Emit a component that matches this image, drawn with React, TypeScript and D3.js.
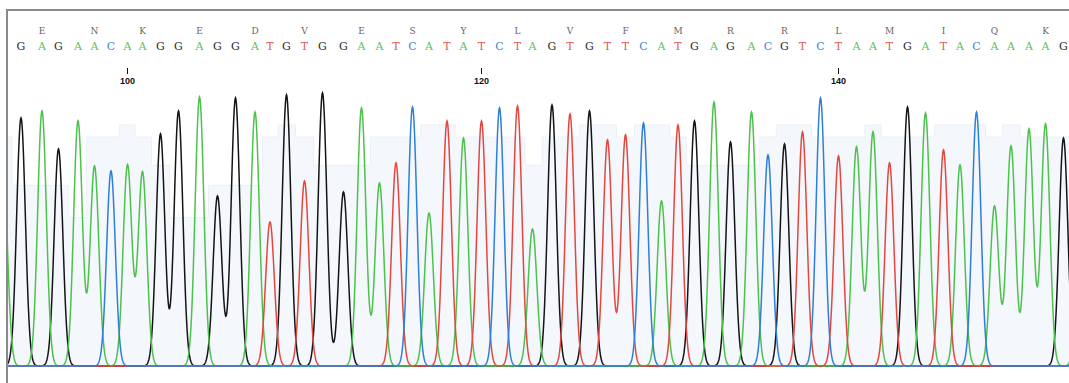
import React from 'react';
import * as d3 from 'd3';

const W = 1069;
const H = 383;

// Base positions 93..154 (93 and 154 are only partly inside the view)
const firstBasePosition = 93;
const baseCalls = [
  'A', 'G', 'A', 'G', 'A', 'A', 'C', 'A', 'A', 'G', 'G', 'A', 'G', 'G', 'A', 'T', 'G', 'T', 'G', 'G',
  'A', 'A', 'T', 'C', 'A', 'T', 'A', 'T', 'C', 'T', 'A', 'G', 'T', 'G', 'T', 'T', 'C', 'A', 'T', 'G',
  'A', 'G', 'A', 'C', 'G', 'T', 'C', 'T', 'A', 'A', 'T', 'G', 'A', 'T', 'A', 'C', 'A', 'A', 'A', 'A',
  'G', 'A',
];
// peak locations in trace scan units
const peakScans = [
  2402, 2414, 2428, 2439, 2452, 2463, 2474, 2485, 2495, 2507, 2519, 2533, 2545, 2557, 2570, 2580, 2591, 2603, 2615, 2629,
  2641, 2653, 2664, 2675, 2686, 2698, 2709, 2721, 2733, 2745, 2755, 2768, 2780, 2793, 2805, 2817, 2829, 2841, 2852, 2863,
  2876, 2887, 2901, 2912, 2923, 2935, 2947, 2959, 2971, 2982, 2993, 3005, 3017, 3029, 3040, 3051, 3063, 3074, 3086, 3097,
  3109, 3121,
];
// peak signal intensity
const peakSignal = [
  1000, 1240, 1275, 1085, 1225, 1000, 975, 1005, 970, 1160, 1275, 1345, 850, 1340, 1270, 720, 1355, 925, 1365, 870,
  1290, 915, 1015, 1295, 765, 1225, 1140, 1225, 1290, 1300, 685, 1305, 1260, 1275, 1130, 1155, 1215, 825, 1205, 1225,
  1320, 1120, 1270, 1055, 1110, 1170, 1340, 1050, 1095, 1170, 1015, 1295, 1265, 1080, 1005, 1270, 800, 1100, 1185, 1210,
  1140, 1000,
];
// base-call quality values
const qualityValues = [
  57, 45, 45, 45, 37, 57, 57, 60, 57, 50, 37, 37, 45, 45, 45, 57, 60, 57, 50, 50,
  50, 57, 57, 57, 60, 60, 57, 57, 57, 57, 50, 57, 57, 60, 60, 57, 60, 60, 57, 50,
  50, 50, 50, 57, 60, 60, 57, 57, 57, 60, 57, 57, 57, 60, 60, 60, 57, 60, 57, 57,
  57, 57,
];
const aminoAcids = ['E', 'N', 'K', 'E', 'D', 'V', 'E', 'S', 'Y', 'L', 'V', 'F', 'M', 'R', 'R', 'L', 'M', 'I', 'Q', 'K'];
const firstCodonPosition = 94;
const tickPositions = [100, 120, 140];

const traceColors: Record<string, string> = { G: '#141414', A: '#4cc24c', T: '#e4473f', C: '#2f7fd6' };
const letterColors: Record<string, string> = { G: '#2a2a2a', A: '#5cc25c', T: '#e05a52', C: '#3d86d4' };
const drawOrder = ['G', 'A', 'T', 'C'];

const plotLeft = 8;
const baselineY = 366;

export default function App() {
  const x = d3.scaleLinear().domain([2400, 2400 + W / 1.5]).range([0, W]);
  const y = d3.scaleLinear().domain([0, 1400]).range([baselineY, 86]);
  const yq = d3.scaleLinear().domain([0, 60]).range([baselineY, 125]);
  const sigma = 2.9;

  const posIndex = (p: number) => p - firstBasePosition;

  // quality step area
  const bounds = peakScans.map((s, i) => {
    const prev = i > 0 ? peakScans[i - 1] : s - 12;
    return (s + prev) / 2;
  });
  const lastBound = peakScans[peakScans.length - 1] + 6;
  const qPts = qualityValues.map((q, i) => ({ s: bounds[i], q }));
  qPts.push({ s: lastBound, q: qualityValues[qualityValues.length - 1] });
  const qArea = d3.area<{ s: number; q: number }>()
    .curve(d3.curveStepAfter)
    .x(d => x(d.s)).y0(baselineY).y1(d => yq(d.q))(qPts) || '';
  const qLine = d3.line<{ s: number; q: number }>()
    .curve(d3.curveStepAfter)
    .x(d => x(d.s)).y(d => yq(d.q))(qPts) || '';

  const scanStart = 2394;
  const scanEnd = 3130;
  const samples = d3.range(scanStart, scanEnd, 0.25);
  const traces = drawOrder.map(ch => {
    const peaks = peakScans
      .map((s, i) => ({ s, h: peakSignal[i], b: baseCalls[i] }))
      .filter(p => p.b === ch);
    const pts = samples.map(s => {
      let v = 0;
      for (const p of peaks) {
        const d = s - p.s;
        if (Math.abs(d) < 20) v += p.h * Math.exp(-(d * d) / (2 * sigma * sigma));
      }
      return [s, v] as [number, number];
    });
    const path = d3.line<[number, number]>().x(d => x(d[0])).y(d => y(d[1]))(pts) || '';
    return { ch, path };
  });

  const letters = baseCalls
    .map((b, i) => ({ b, px: x(peakScans[i]) }))
    .filter(d => d.px > plotLeft + 4 && d.px < W);

  const aas = aminoAcids.map((aa, k) => ({
    aa,
    px: x(peakScans[posIndex(firstCodonPosition + 3 * k + 1)]),
  }));

  const ticks = tickPositions.map(p => ({ p, px: x(peakScans[posIndex(p)]) }));

  return (
    <svg width={W} height={H} style={{ position: 'absolute', left: 0, top: 0, background: '#fff' }}>
      <defs>
        <clipPath id="plot">
          <rect x={plotLeft} y={11} width={W - plotLeft} height={H - 11} />
        </clipPath>
      </defs>
      <g clipPath="url(#plot)">
        <path d={qArea} fill="#f4f7fc" />
        <path d={qLine} fill="none" stroke="#ebf0f7" strokeWidth={1} />
        {traces.map(t => (
          <path key={t.ch} d={t.path} fill="none" stroke={traceColors[t.ch]} strokeWidth={1.5} />
        ))}
      </g>
      {aas.map((d, i) => (
        <text key={'aa' + i} x={d.px} y={34} textAnchor="middle" fontFamily="DejaVu Serif" fontSize={9} fill="#666">
          {d.aa}
        </text>
      ))}
      {letters.map((d, i) => (
        <text key={'b' + i} x={d.px} y={49.5} textAnchor="middle" fontFamily="DejaVu Serif" fontSize={11} fill={letterColors[d.b]}>
          {d.b}
        </text>
      ))}
      {ticks.map(t => (
        <g key={t.p}>
          <line x1={t.px} x2={t.px} y1={68} y2={74} stroke="#111" strokeWidth={1} />
          <text x={t.px} y={84} textAnchor="middle" fontFamily="Liberation Sans, Arial, sans-serif" fontWeight="bold" fontSize={9} fill="#111">
            {t.p}
          </text>
        </g>
      ))}
      <path d={`M7,${H} V10 H${W}`} fill="none" stroke="#8a8a8a" strokeWidth={2} />
    </svg>
  );
}
